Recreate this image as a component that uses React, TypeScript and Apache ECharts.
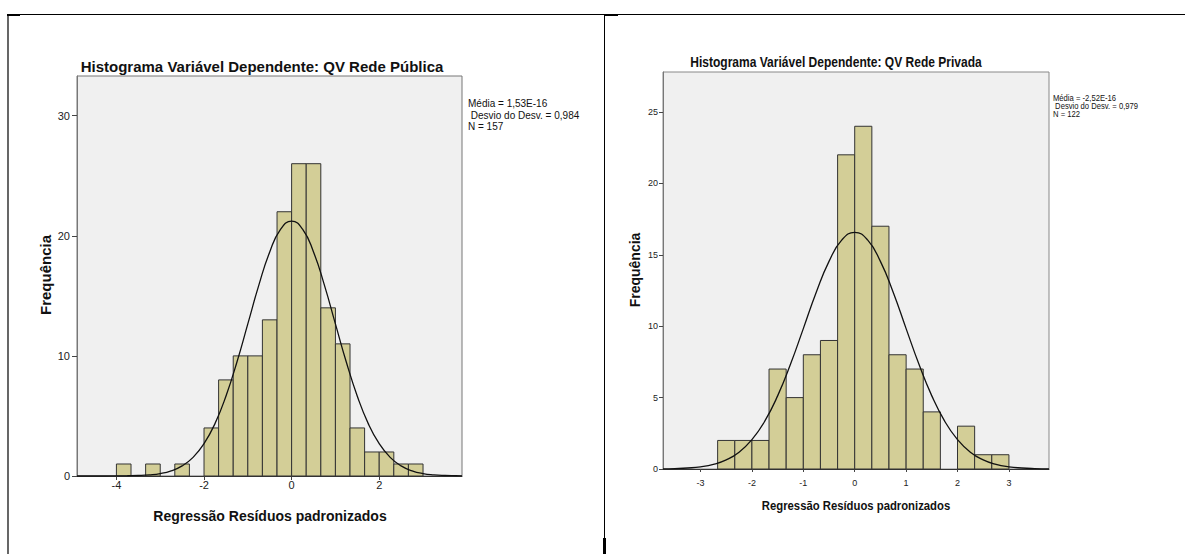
import React, { useEffect, useRef } from "react";
import * as echarts from "echarts";

// ---------- Data ----------
const binWidth = 1 / 3;

// Left chart: QV Rede Pública
const pubBinLow = [-4, -3.667, -3.333, -3, -2.667, -2.333, -2, -1.667, -1.333, -1, -0.667, -0.333, 0, 0.333, 0.667, 1, 1.333, 1.667, 2, 2.333, 2.667];
const pubCounts = [1, 0, 1, 0, 1, 0, 4, 8, 10, 10, 13, 22, 26, 26, 14, 11, 4, 2, 2, 1, 1];
const pubCurveX = [-4.9, -4.5, -4.25, -4, -3.75, -3.5, -3.25, -3, -2.75, -2.5, -2.25, -2, -1.75, -1.5, -1.25, -1, -0.75, -0.5, -0.25, 0, 0.25, 0.5, 0.75, 1, 1.25, 1.5, 1.75, 2, 2.25, 2.5, 2.75, 3, 3.25, 3.5, 3.75, 3.89];
const pubCurveY = [0, 0, 0, 0.01, 0.02, 0.04, 0.09, 0.2, 0.43, 0.84, 1.55, 2.69, 4.36, 6.64, 9.47, 12.66, 15.87, 18.65, 20.55, 21.22, 20.55, 18.65, 15.87, 12.66, 9.47, 6.64, 4.36, 2.69, 1.55, 0.84, 0.43, 0.2, 0.09, 0.04, 0.02, 0.01];
const pubYTicks = [0, 10, 20, 30];
const pubXTicks = [-4, -2, 0, 2];
const pubStats = ["Média = 1,53E-16", " Desvio do Desv. = 0,984", "N = 157"];

// Right chart: QV Rede Privada
const privBinLow = [-2.667, -2.333, -2, -1.667, -1.333, -1, -0.667, -0.333, 0, 0.333, 0.667, 1, 1.333, 1.667, 2, 2.333, 2.667];
const privCounts = [2, 2, 2, 7, 5, 8, 9, 22, 24, 17, 8, 7, 4, 0, 3, 1, 1];
const privCurveX = [-3.73, -3.5, -3.25, -3, -2.75, -2.5, -2.25, -2, -1.75, -1.5, -1.25, -1, -0.75, -0.5, -0.25, 0, 0.25, 0.5, 0.75, 1, 1.25, 1.5, 1.75, 2, 2.25, 2.5, 2.75, 3, 3.25, 3.5, 3.78];
const privCurveY = [0.01, 0.03, 0.07, 0.15, 0.32, 0.64, 1.18, 2.06, 3.35, 5.12, 7.33, 9.83, 12.36, 14.54, 16.04, 16.57, 16.04, 14.54, 12.36, 9.83, 7.33, 5.12, 3.35, 2.06, 1.18, 0.64, 0.32, 0.15, 0.07, 0.03, 0.01];
const privYTicks = [0, 5, 10, 15, 20, 25];
const privXTicks = [-3, -2, -1, 0, 1, 2, 3];
const privStats = ["Média = -2,52E-16", " Desvio do Desv. = 0,979", "N = 122"];

const titlePub = "Histograma Variável Dependente: QV Rede Pública";
const titlePriv = "Histograma Variável Dependente: QV Rede Privada";
const xTitle = "Regressão Resíduos padronizados";
const yTitle = "Frequência";

const FONT = "'Liberation Sans', Arial, sans-serif";
const BAR_FILL = "#d3ce97";

function barData(lows: number[], counts: number[]) {
  const out: number[][] = [];
  lows.forEach((lo, i) => {
    if (counts[i] > 0) out.push([lo, lo + binWidth, counts[i]]);
  });
  return out;
}

function renderBar(params: any, api: any) {
  const x0 = api.value(0);
  const x1 = api.value(1);
  const c = api.value(2);
  const p0 = api.coord([x0, c]);
  const p1 = api.coord([x1, 0]);
  return {
    type: "rect",
    shape: { x: p0[0], y: p0[1], width: p1[0] - p0[0], height: p1[1] - p0[1] },
    style: { fill: BAR_FILL, stroke: "#333", lineWidth: 1 },
  };
}

function txt(text: string, x: number, y: number, size: number, opts: any = {}) {
  return {
    type: "text",
    x,
    y,
    rotation: opts.rotation || 0,
    scaleX: opts.scaleX || 1,
    z: 10,
    style: {
      text,
      fontSize: size,
      fontWeight: opts.bold ? "bold" : "normal",
      fontFamily: FONT,
      fill: opts.color || "#111",
      align: opts.align || "center",
      verticalAlign: "middle",
      textAlign: opts.align || "center",
      textVerticalAlign: "middle",
    },
  };
}

export default function App() {
  const ref = useRef<HTMLDivElement>(null);

  useEffect(() => {
    if (!ref.current) return;
    const chart = echarts.init(ref.current, undefined, { renderer: "svg" });

    const axisCommonY = (max: number, interval: number, ticks: number[], size: number, margin: number, tickLen: number) => ({
      type: "value",
      min: 0,
      max,
      interval,
      axisLine: { show: true, onZero: false, lineStyle: { color: "#777", width: 1 } },
      axisTick: { show: true, length: tickLen, lineStyle: { color: "#444" }, customValues: ticks },
      axisLabel: { fontSize: size, fontFamily: FONT, color: "#222", margin, customValues: ticks, showMinLabel: true, showMaxLabel: true },
      splitLine: { show: false },
    });

    const axisCommonX = (min: number, max: number, ticks: number[], size: number, margin: number, tickLen: number) => ({
      type: "value",
      min,
      max,
      axisLine: { show: true, onZero: false, lineStyle: { color: "#333", width: 1 } },
      axisTick: { show: true, length: tickLen, lineStyle: { color: "#444" }, customValues: ticks },
      axisLabel: { fontSize: size, fontFamily: FONT, color: "#222", margin, customValues: ticks },
      splitLine: { show: false },
    });

    const option: any = {
      animation: false,
      grid: [
        { left: 77, top: 76, width: 385, height: 400, show: true, backgroundColor: "#f0f0f0", borderColor: "#777", borderWidth: 1 },
        { left: 663, top: 72, width: 386, height: 397, show: true, backgroundColor: "#f0f0f0", borderColor: "#888", borderWidth: 1 },
      ],
      xAxis: [
        { ...axisCommonX(-4.9, 3.89, pubXTicks, 11, 3, 4), gridIndex: 0 },
        { ...axisCommonX(-3.73, 3.78, privXTicks, 9, 9, 3), gridIndex: 1 },
      ],
      yAxis: [
        { ...axisCommonY(33.3, 10, pubYTicks, 11, 7, 5), gridIndex: 0 },
        { ...axisCommonY(27.8, 5, privYTicks, 9, 5, 4), gridIndex: 1 },
      ],
      series: [
        {
          type: "custom",
          xAxisIndex: 0,
          yAxisIndex: 0,
          renderItem: renderBar,
          encode: { x: [0, 1], y: 2 },
          data: barData(pubBinLow, pubCounts),
        },
        {
          type: "line",
          xAxisIndex: 0,
          yAxisIndex: 0,
          smooth: true,
          showSymbol: false,
          symbol: "none",
          lineStyle: { color: "#111", width: 1.3 },
          data: pubCurveX.map((x, i) => [x, pubCurveY[i]]),
          z: 5,
        },
        {
          type: "custom",
          xAxisIndex: 1,
          yAxisIndex: 1,
          renderItem: renderBar,
          encode: { x: [0, 1], y: 2 },
          data: barData(privBinLow, privCounts),
        },
        {
          type: "line",
          xAxisIndex: 1,
          yAxisIndex: 1,
          smooth: true,
          showSymbol: false,
          symbol: "none",
          lineStyle: { color: "#111", width: 1.3 },
          data: privCurveX.map((x, i) => [x, privCurveY[i]]),
          z: 5,
        },
      ],
      graphic: [
        // table lines
        { type: "line", shape: { x1: 8, y1: 14.5, x2: 1185, y2: 14.5 }, style: { stroke: "#000", lineWidth: 1 } },
        { type: "line", shape: { x1: 8, y1: 14, x2: 8, y2: 554 }, style: { stroke: "#000", lineWidth: 1.2 } },
        { type: "line", shape: { x1: 604.5, y1: 14, x2: 604.5, y2: 554 }, style: { stroke: "#000", lineWidth: 1 } },
        { type: "rect", shape: { x: 7, y: 14, width: 13, height: 2 }, style: { fill: "#000" } },
        { type: "rect", shape: { x: 604, y: 14, width: 14, height: 2 }, style: { fill: "#000" } },
        { type: "rect", shape: { x: 603, y: 538, width: 3, height: 16 }, style: { fill: "#000" } },
        // left texts
        txt(titlePub, 262, 66, 15, { bold: true }),
        txt(xTitle, 270, 516, 14, { bold: true }),
        txt(yTitle, 45, 275, 15, { bold: true, rotation: Math.PI / 2 }),
        txt(pubStats[0], 468, 103, 10, { align: "left" }),
        txt(pubStats[1], 468, 115, 10, { align: "left" }),
        txt(pubStats[2], 468, 126, 10, { align: "left" }),
        // right texts
        txt(titlePriv, 836, 62, 14, { bold: true, scaleX: 0.86 }),
        txt(xTitle, 856, 506, 13, { bold: true, scaleX: 0.87 }),
        txt(yTitle, 635, 270, 14, { bold: true, rotation: Math.PI / 2 }),
        txt(privStats[0], 1053, 98, 8.5, { align: "left", scaleX: 0.9 }),
        txt(privStats[1], 1053, 106, 8.5, { align: "left", scaleX: 0.9 }),
        txt(privStats[2], 1053, 114, 8.5, { align: "left", scaleX: 0.9 }),
      ],
    };

    chart.setOption(option);
    return () => chart.dispose();
  }, []);

  return (
    <div
      ref={ref}
      style={{ position: "absolute", left: 0, top: 0, width: 1185, height: 554, background: "#fff" }}
    />
  );
}
